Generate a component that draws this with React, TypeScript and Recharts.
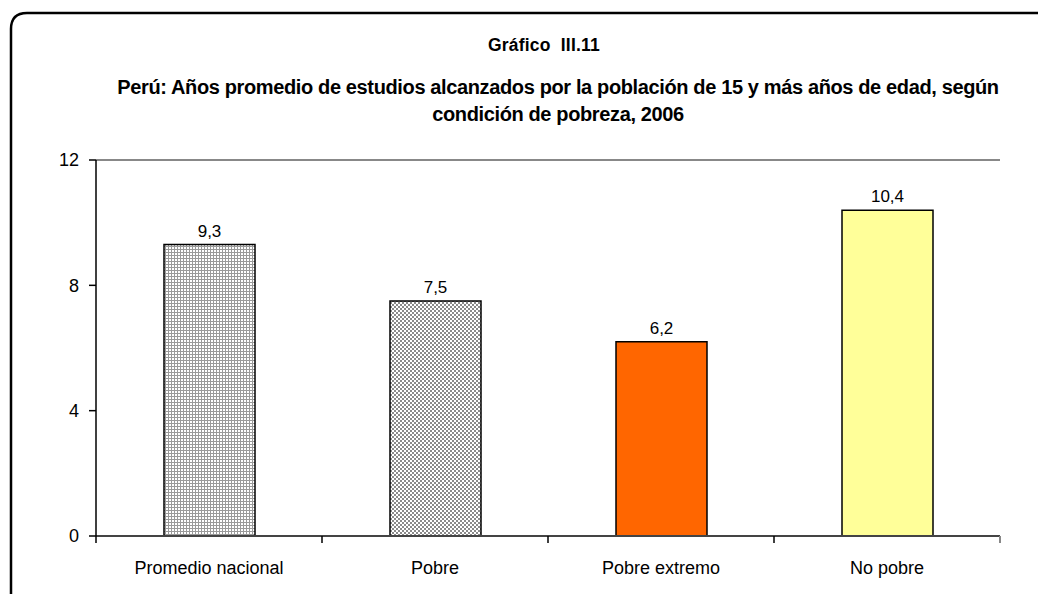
import { Bar, BarChart, Cell, LabelList, ReferenceLine, XAxis, YAxis } from 'recharts';

const categories = ['Promedio nacional', 'Pobre', 'Pobre extremo', 'No pobre'];
const years = [9.3, 7.5, 6.2, 10.4];
const yTicks = [0, 4, 8, 12];

const fills = ['url(#grid)', 'url(#checker)', '#FF6600', '#FFFF99'];
const data = categories.map((name, i) => ({ name, years: years[i] }));

const font = '"Liberation Sans", Arial, sans-serif';
const TICK = 7;
const GAP = 10;

function CategoryTick(props: any) {
  const { x, y, payload, index } = props;
  const axisY = y - TICK - GAP;
  const half = payload.offset ?? 0;
  return (
    <g>
      <line x1={x - half} x2={x - half} y1={axisY} y2={axisY + TICK} stroke="#000" strokeWidth={1.5} />
      {index === categories.length - 1 && (
        <line x1={x + half} x2={x + half} y1={axisY} y2={axisY + TICK} stroke="#888" strokeWidth={2} />
      )}
      <text x={x} y={y} dy={21} textAnchor="middle" fontSize={18} fill="#000" fontFamily={font}>
        {payload.value}
      </text>
    </g>
  );
}

export default function App() {
  return (
    <div style={{ position: 'fixed', left: 0, top: 0, width: 1038, height: 594, overflow: 'hidden', background: '#fff', fontFamily: font }}>
      <svg width={1038} height={594} style={{ position: 'absolute', left: 0, top: 0 }}>
        <path d="M11 620 L11 29 Q11 13 27 13 L1060 13" fill="none" stroke="#000" strokeWidth={2.5} />
      </svg>
      <div style={{ position: 'absolute', left: 0, width: 1088, top: 35, textAlign: 'center', fontWeight: 'bold', fontSize: 17.5, letterSpacing: 0.2 }}>
        Gráfico&nbsp; III.11
      </div>
      <div style={{ position: 'absolute', left: 0, width: 1116, top: 74, textAlign: 'center', fontWeight: 'bold', fontSize: 20, letterSpacing: -0.37, lineHeight: '27px' }}>
        Perú: Años promedio de estudios alcanzados por la población de 15 y más años de edad, según
        <br />
        condición de pobreza, 2006
      </div>
      <div style={{ position: 'absolute', left: 0, top: 0 }}>
        <BarChart width={1038} height={594} data={data} margin={{ top: 160, right: 38, left: 0, bottom: 0 }}>
          <defs>
            <pattern id="grid" width={3} height={3} patternUnits="userSpaceOnUse">
              <rect width={3} height={3} fill="#fff" />
              <rect width={3} height={1} fill="#9a9a9a" />
              <rect width={1} height={3} fill="#9a9a9a" />
            </pattern>
            <pattern id="checker" width={4} height={4} patternUnits="userSpaceOnUse">
              <rect width={4} height={4} fill="#fff" />
              <rect width={2} height={2} fill="#8a8a8a" />
              <rect x={2} y={2} width={2} height={2} fill="#8a8a8a" />
            </pattern>
          </defs>
          <XAxis
            dataKey="name"
            height={58}
            axisLine={{ stroke: '#444', strokeWidth: 2 }}
            tickLine={false}
            tickSize={TICK}
            tickMargin={GAP}
            interval={0}
            tick={<CategoryTick />}
          />
          <YAxis
            width={96}
            domain={[0, 12]}
            ticks={yTicks}
            interval={0}
            tickSize={TICK}
            tickMargin={10}
            axisLine={{ stroke: '#000', strokeWidth: 1.5 }}
            tickLine={{ stroke: '#000', strokeWidth: 1.5 }}
            tick={{ fontSize: 18, fill: '#000', fontFamily: font }}
          />
          <YAxis yAxisId="r" orientation="right" width={0} domain={[0, 12]} tick={false} tickLine={false} axisLine={{ stroke: '#888', strokeWidth: 2 }} />
          <ReferenceLine y={12} stroke="#888" strokeWidth={2} />
          <Bar dataKey="years" barSize={91} stroke="#000" strokeWidth={1.5} isAnimationActive={false}>
            {data.map((d, i) => (
              <Cell key={d.name} fill={fills[i]} />
            ))}
            <LabelList
              dataKey="years"
              position="top"
              offset={8}
              fontSize={17}
              fill="#000"
              fontFamily={font}
              formatter={(v: any) => String(v).replace('.', ',')}
            />
          </Bar>
        </BarChart>
      </div>
    </div>
  );
}
